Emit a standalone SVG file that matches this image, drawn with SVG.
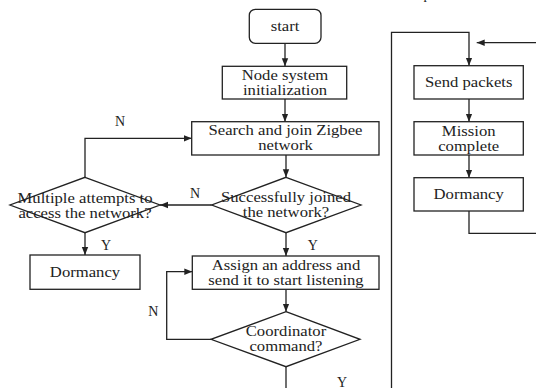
<svg xmlns="http://www.w3.org/2000/svg" width="536" height="388" viewBox="0 0 536 388">
<style>
.b{fill:#fff;stroke:#222;stroke-width:1.3}
.c{fill:none;stroke:#222;stroke-width:1.3}
.t{font-family:'Liberation Serif','Times New Roman',serif;font-size:14px;fill:#222;text-anchor:middle}
</style>
<defs>
<marker id="a" viewBox="0 0 8 8" refX="8" refY="4" markerWidth="8" markerHeight="8" markerUnits="userSpaceOnUse" orient="auto">
<path d="M0,0.8 L8,4 L0,7.2 Z" fill="#222"/>
</marker>
</defs>
<g id="connectors">
<path class="c" d="M285,43.3 V66.3" marker-end="url(#a)"/>
<path class="c" d="M285,99 V121.7" marker-end="url(#a)"/>
<path class="c" d="M286,155 V177.3" marker-end="url(#a)"/>
<path class="c" d="M211.7,205 H160" marker-end="url(#a)"/>
<path class="c" d="M85,177.3 V138.3 H191.7" marker-end="url(#a)"/>
<path class="c" d="M85,232.7 V255" marker-end="url(#a)"/>
<path class="c" d="M286,232.7 V256" marker-end="url(#a)"/>
<path class="c" d="M286,289.3 V311.7" marker-end="url(#a)"/>
<path class="c" d="M211,339.3 H166.7 V271.7 H192.3" marker-end="url(#a)"/>
<path class="c" d="M286,366.7 V388"/>
<path class="c" d="M391.5,388 V32.3 H469 V65.7" marker-end="url(#a)"/>
<path class="c" d="M469,99 V121.7" marker-end="url(#a)"/>
<path class="c" d="M469,155 V177.7" marker-end="url(#a)"/>
<path class="c" d="M469,211 V233.3 H536"/>
<path class="c" d="M536,42.7 H476.7" marker-end="url(#a)"/>
<g class="t" font-family="Liberation Serif, Times New Roman, serif">
<text x="120" y="126">N</text>
<text x="195" y="198">N</text>
<text x="153.3" y="316">N</text>
<text x="106" y="249.5">Y</text>
<text x="312.7" y="249.5">Y</text>
<text x="342" y="386.5">Y</text>
</g>
</g>
<g class="t" font-family="Liberation Serif, Times New Roman, serif">
<g id="start">
<rect class="b" x="249.3" y="9.3" width="71.7" height="34" rx="6"/>
<text transform="translate(285,31) scale(1.19,1)">start</text>
</g>
<g id="init">
<rect class="b" x="222.3" y="66.3" width="124.4" height="32.7"/>
<text transform="translate(285,79.5) scale(1.19,1)">Node system</text>
<text transform="translate(285,94.5) scale(1.19,1)">initialization</text>
</g>
<g id="search">
<rect class="b" x="191.7" y="121.7" width="187.3" height="33.3"/>
<text transform="translate(285.5,135.3) scale(1.19,1)">Search and join Zigbee</text>
<text transform="translate(285.5,150.3) scale(1.19,1)">network</text>
</g>
<g id="joined">
<polygon class="b" points="286,177.3 361,205 286,232.7 211.7,205"/>
<text transform="translate(286,201.5) scale(1.19,1)">Successfully joined</text>
<text transform="translate(286,217) scale(1.19,1)">the network?</text>
</g>
<g id="attempts">
<polygon class="b" points="85,177.3 160,205 85,232.7 10,205"/>
<text transform="translate(85,202.5) scale(1.19,1)">Multiple attempts to</text>
<text transform="translate(85,217.5) scale(1.19,1)">access the network?</text>
</g>
<g id="dormancy1">
<rect class="b" x="30" y="255" width="110" height="34.3"/>
<text transform="translate(85,276.5) scale(1.19,1)">Dormancy</text>
</g>
<g id="assign">
<rect class="b" x="192.3" y="256" width="186.7" height="33.3"/>
<text transform="translate(286,269.5) scale(1.19,1)">Assign an address and</text>
<text transform="translate(286,284.5) scale(1.19,1)">send it to start listening</text>
</g>
<g id="coordinator">
<polygon class="b" points="286,311.7 360,339.3 286,366.7 211,339.3"/>
<text transform="translate(286,336) scale(1.19,1)">Coordinator</text>
<text transform="translate(286,351) scale(1.19,1)">command?</text>
</g>
<g id="send">
<rect class="b" x="414" y="65.7" width="109.3" height="33.3"/>
<text transform="translate(468.7,87) scale(1.19,1)">Send packets</text>
</g>
<g id="mission">
<rect class="b" x="414" y="121.7" width="109.3" height="33.3"/>
<text transform="translate(468.7,135.5) scale(1.19,1)">Mission</text>
<text transform="translate(468.7,150.5) scale(1.19,1)">complete</text>
</g>
<g id="dormancy2">
<rect class="b" x="414" y="177.7" width="109.3" height="33.3"/>
<text transform="translate(468.7,198.5) scale(1.19,1)">Dormancy</text>
</g>
<text x="427" y="-1">p</text>
</g>
</svg>
